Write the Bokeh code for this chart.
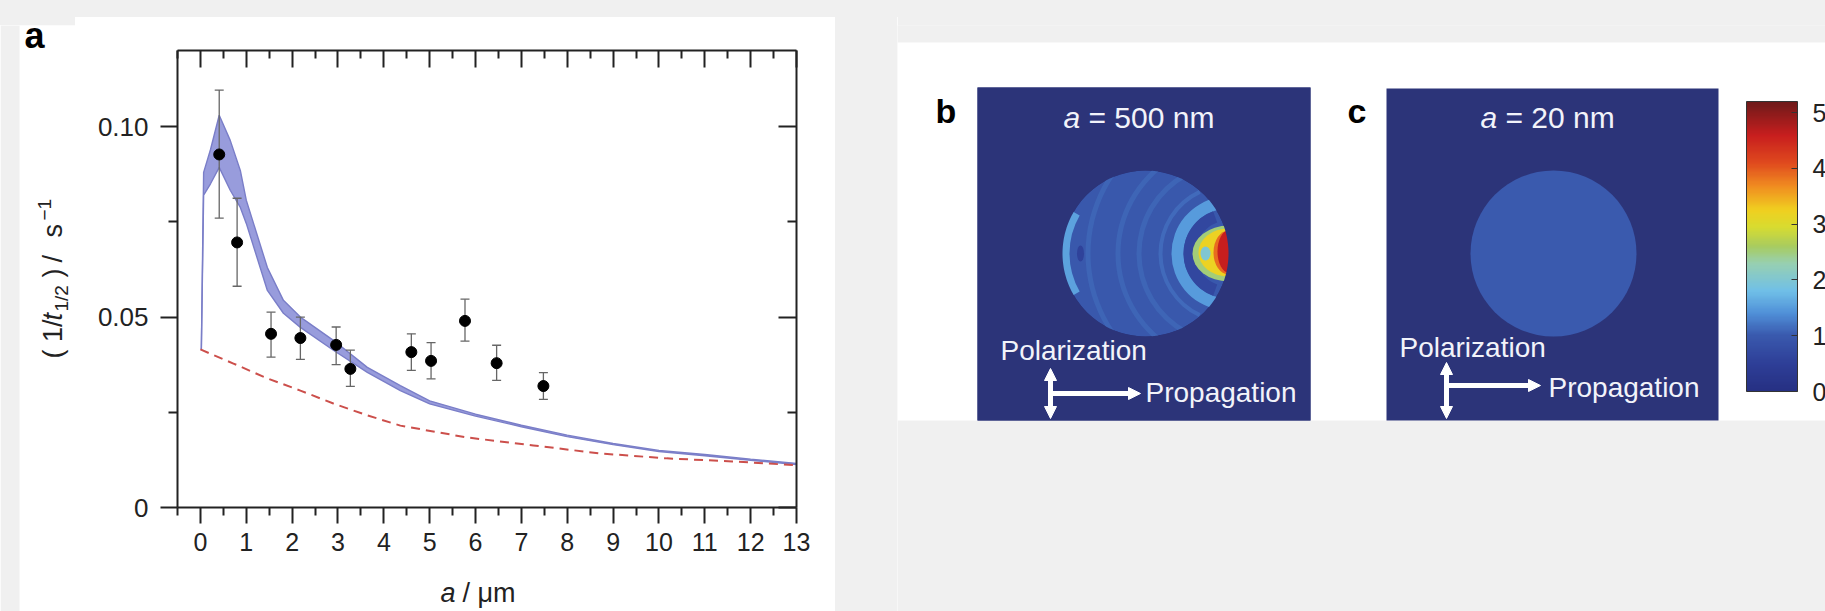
import numpy as np
from bokeh.plotting import figure
from bokeh.models import (ColumnDataSource, LinearAxis, FixedTicker, Label, Arrow,
                          NormalHead, LinearColorMapper, ColorBar, Range1d, CustomLabelingPolicy)
from bokeh.layouts import row, column
from bokeh.transform import linear_cmap
from bokeh.embed import file_html
from bokeh.resources import INLINE

FONT = "Liberation Sans"
INK = "#222222"
GRAY = "#f0f0f0"

# ---------------- panel a : data ----------------
x_major_ticks = list(range(0, 14))
x_minor_ticks = [-0.5, 0.5, 1.5, 2.5, 3.5, 4.5, 5.5, 6.5, 7.5, 8.5, 9.5, 10.5, 11.5, 12.5]
y_major_ticks = [0.0, 0.05, 0.10]
y_tick_labels = ["0", "0.05", "0.10"]
y_minor_ticks = [0.025, 0.075]

# measured points with error bars
meas_x = [0.41, 0.80, 1.54, 2.18, 2.96, 3.27, 4.60, 5.03, 5.77, 6.46, 7.48]
meas_y = [0.0927, 0.0696, 0.0456, 0.0445, 0.0427, 0.0364, 0.0408, 0.0385, 0.0490, 0.0379, 0.0319]
meas_hi = [0.1096, 0.0812, 0.0513, 0.0500, 0.0474, 0.0413, 0.0456, 0.0433, 0.0547, 0.0426, 0.0354]
meas_lo = [0.0760, 0.0581, 0.0395, 0.0389, 0.0375, 0.0318, 0.0360, 0.0338, 0.0437, 0.0334, 0.0284]

# simulated (blue) band: lower / upper envelope
sim_x = [0.02, 0.07, 0.22, 0.41, 0.65, 0.87, 1.00, 1.46, 1.81, 2.18, 2.90, 3.64, 4.36, 5.00,
         6.0, 7.0, 8.0, 9.0, 10.0, 11.0, 12.0, 13.0]
sim_hi = [0.0415, 0.0880, 0.0940, 0.1030, 0.0964, 0.0885, 0.0807, 0.0630, 0.0544, 0.0500, 0.0439,
          0.0368, 0.0320, 0.0280, 0.0245, 0.0216, 0.0190, 0.0168, 0.0150, 0.0139, 0.0127, 0.0116]
sim_lo = [0.0415, 0.0820, 0.0850, 0.0893, 0.0833, 0.0788, 0.0746, 0.0570, 0.0510, 0.0473, 0.0413,
          0.0355, 0.0307, 0.0272, 0.0240, 0.0212, 0.0186, 0.0165, 0.0147, 0.0136, 0.0124, 0.0113]

# bulk (red dashed) curve
bulk_x = [0.0, 0.72, 1.46, 2.18, 2.90, 3.64, 4.36, 5.81, 7.26, 8.71, 10.17, 11.60, 13.0]
bulk_y = [0.0415, 0.0378, 0.0339, 0.0307, 0.0273, 0.0242, 0.0215, 0.0184, 0.0163, 0.0142,
          0.0129, 0.0121, 0.0111]

# ---------------- colour scale (panels b, c) ----------------
cb_ticks = [0, 1, 2, 3, 4, 5]
cb_low, cb_high = 0.0, 5.2
cb_anchor_vals = [0.0, 0.5, 1.0, 1.4, 1.8, 2.3, 2.6, 2.95, 3.25, 3.7, 4.1, 4.6, 5.2]
cb_anchor_cols = ["#263083", "#2e3f98", "#3a5aae", "#5090d8", "#70c0e8", "#98d0b0", "#a8cc60",
                  "#d8dc30", "#f0d020", "#f08a20", "#e04a1e", "#c81e1e", "#6e1a1a"]

# ---------------- panel b : field features (local coords in the 333 px box) ----------------
b_circle = dict(x=[168], y=[167], r=[83], v=[0.97])
b_arcs = dict(
    x=[168, 251, 251, 251, 251, 251, 251],
    y=[167, 167, 167, 167, 167, 167, 167],
    ri=[76, 138, 108, 87, 66, 45, 33],
    ro=[92, 143, 113, 92, 70, 57, 45],
    a0=[150, 125, 122, 118, 115, 100, 110],
    a1=[210, 235, 238, 242, 245, 260, 250],
    v=[1.55, 1.09, 1.09, 1.09, 1.12, 1.5, 0.65],
)
b_spots = dict(
    x=[251, 251, 251, 251, 228, 103],
    y=[167, 168, 168, 169, 167, 167],
    w=[72, 60, 30, 22, 10, 7],
    h=[56, 48, 44, 42, 14, 16],
    v=[2.5, 3.2, 3.9, 4.6, 2.0, 0.55],
)
c_circle = dict(x=[167], y=[167], r=[83], v=[1.0])

panel_titles = {"b": ("a", "= 500 nm"), "c": ("a", "= 20 nm")}

# ---------------- palette (styling) ----------------
def _rgb(h):
    return [int(h[i:i + 2], 16) for i in (1, 3, 5)]

_anc = np.array([_rgb(c) for c in cb_anchor_cols], dtype=float)
_t = np.linspace(cb_low, cb_high, 256)
PALETTE = ["#%02x%02x%02x" % tuple(int(round(np.interp(t, cb_anchor_vals, _anc[:, k]))) for k in range(3))
           for t in _t]
NAVY = "#2c3479"
TXT = "#f2f3fa"


def cmap(field="v"):
    return linear_cmap(field, PALETTE, cb_low, cb_high)


BASE_FIX = 0.35   # Bokeh draws the alphabetic baseline this many ems below the anchor


def scr_label(p, x, y, text, size, style="normal", color=INK, angle=0.0):
    fs = float(size.replace("px", ""))
    if angle == 0.0:
        y = y + BASE_FIX * fs
    else:
        x = x - BASE_FIX * fs
    p.add_layout(Label(x=x, y=y, x_units="screen", y_units="screen", text=text, angle=angle,
                       text_font=FONT, text_font_size=size, text_font_style=style, text_color=color,
                       text_baseline="alphabetic", text_align="left"))


TOP_B = 25   # common top border of all plots in the row

# ================= left strip (panel letter + y label) =================
pl = figure(width=75, height=611, x_range=Range1d(0, 75), y_range=Range1d(0, 586),
            output_backend="svg", toolbar_location=None, x_axis_location=None, y_axis_location=None,
            min_border_left=0, min_border_right=0, min_border_top=TOP_B, min_border_bottom=0,
            background_fill_color="white", border_fill_color=GRAY, outline_line_color=None,
            styles={"background": "linear-gradient(#f0f0f0 25px, #ffffff 25px)"})
pl.xgrid.visible = False
pl.ygrid.visible = False
pl.quad(left=[0], right=[19], bottom=[0], top=[586], fill_color=GRAY, line_color=None)
scr_label(pl, 24, 563, "a", "36px", "bold", "black")
ylab_parts = [
    ("( 1/", 62, 253, "27px", "normal"),
    ("t", 62, 291, "27px", "italic"),
    ("1/2", 68, 300, "19px", "normal"),
    (")", 62, 334, "27px", "normal"),
    ("/", 62, 349, "27px", "normal"),
    ("s", 62, 374, "27px", "normal"),
    ("−1", 51, 391, "19px", "normal"),
]
for txt, lx, ly, fs, st in ylab_parts:
    scr_label(pl, lx, ly, txt, fs, st, INK, np.pi / 2)

# ================= panel a =================
pa = figure(width=760, height=549, x_range=Range1d(-0.5, 13), y_range=Range1d(0, 0.12),
            output_backend="svg", toolbar_location=None,
            min_border_left=102, min_border_right=39, min_border_top=TOP_B, min_border_bottom=67,
            background_fill_color="white", border_fill_color="white", outline_line_color=None)
pa.xgrid.visible = False
pa.ygrid.visible = False

HIDE_LABELS = "for (const i of indices) { indices.unset(i) }\nreturn indices"


def style_axis(ax, tin, tout, min_in, min_out, labels=True):
    ax.axis_line_color = INK
    ax.axis_line_width = 2
    ax.major_tick_line_color = INK
    ax.major_tick_line_width = 2
    ax.minor_tick_line_color = INK
    ax.minor_tick_line_width = 2
    ax.major_tick_in = tin
    ax.major_tick_out = tout
    ax.minor_tick_in = min_in
    ax.minor_tick_out = min_out
    ax.major_label_text_font = FONT
    ax.major_label_text_color = INK
    if not labels:
        ax.major_label_policy = CustomLabelingPolicy(code=HIDE_LABELS)
        ax.major_label_text_font_size = "1px"
        ax.major_label_standoff = 0


xa = pa.xaxis[0]
xa.ticker = FixedTicker(ticks=x_major_ticks, minor_ticks=x_minor_ticks)
style_axis(xa, 0, 16, 0, 8)
xa.major_label_text_font_size = "25px"
xa.major_label_standoff = 9

ya = pa.yaxis[0]
ya.ticker = FixedTicker(ticks=y_major_ticks, minor_ticks=y_minor_ticks)
style_axis(ya, 0, 17, 0, 9)
ya.major_label_text_font_size = "26px"
ya.major_label_standoff = 12
ya.major_label_overrides = dict(zip(y_major_ticks, y_tick_labels))

ta = LinearAxis(ticker=FixedTicker(ticks=x_major_ticks, minor_ticks=x_minor_ticks))
style_axis(ta, 17, 0, 8, 0, labels=False)
pa.add_layout(ta, "above")
ra = LinearAxis(ticker=FixedTicker(ticks=y_major_ticks, minor_ticks=y_minor_ticks))
style_axis(ra, 18, 0, 9, 0, labels=False)
pa.add_layout(ra, "right")

sim_src = ColumnDataSource(dict(x=sim_x, lo=sim_lo, hi=sim_hi))
pa.varea(x="x", y1="lo", y2="hi", source=sim_src, fill_color="#8d91d8", fill_alpha=0.9)
pa.line(x="x", y="hi", source=sim_src, line_color="#7a7ec8", line_width=1.4)
pa.line(x="x", y="lo", source=sim_src, line_color="#7a7ec8", line_width=1.4)

pa.line(x=bulk_x, y=bulk_y, line_color="#cc4f4b", line_width=2, line_dash="9 6")

meas_src = ColumnDataSource(dict(x=meas_x, y=meas_y, lo=meas_lo, hi=meas_hi))
pa.segment(x0="x", y0="lo", x1="x", y1="hi", source=meas_src, line_color="#666666", line_width=1.3)
pa.scatter(x="x", y="hi", source=meas_src, marker="dash", size=9, line_color="#666666", line_width=1.3)
pa.scatter(x="x", y="lo", source=meas_src, marker="dash", size=9, line_color="#666666", line_width=1.3)
pa.scatter(x="x", y="y", source=meas_src, marker="circle", size=11, fill_color="black", line_color="black")

# x-axis title strip under panel a
px = figure(width=760, height=37, x_range=Range1d(0, 1), y_range=Range1d(0, 1),
            output_backend="svg", toolbar_location=None, x_axis_location=None, y_axis_location=None,
            min_border_left=102, min_border_right=39, min_border_top=0, min_border_bottom=0,
            background_fill_color="white", border_fill_color="white", outline_line_color=None)
px.xgrid.visible = False
px.ygrid.visible = False
scr_label(px, 263, 9, "a", "27px", "italic")
scr_label(px, 285, 9, "/ μm", "27px")

col_a = column(pa, px, margin=(25, 62, 0, 0), styles={"background-color": "white"})

# ================= right side: panels b, c and colour bar =================
pr = figure(width=928, height=611, x_range=Range1d(0, 928), y_range=Range1d(0, 586),
            output_backend="svg", toolbar_location=None, x_axis_location=None, y_axis_location=None,
            min_border_left=0, min_border_right=0, min_border_top=TOP_B, min_border_bottom=0,
            background_fill_color=GRAY, border_fill_color=GRAY, outline_line_color=None)
pr.xgrid.visible = False
pr.ygrid.visible = False
# white card and the two dark image boxes
pr.quad(left=[0], right=[928], bottom=[191], top=[569], fill_color="white", line_color=None)
BX, BY = 80, 191      # panel b box origin
CX, CY = 489, 191     # panel c box origin
pr.quad(left=[BX, CX], right=[BX + 333, CX + 332], bottom=[BY, CY], top=[BY + 333, CY + 332],
        fill_color=NAVY, line_color=None)


def shift(d, dx, dy):
    out = dict(d)
    out["x"] = [v + dx for v in d["x"]]
    out["y"] = [v + dy for v in d["y"]]
    return out


# panel b field
pr.circle(x="x", y="y", radius="r", source=ColumnDataSource(shift(b_circle, BX, BY)),
          fill_color=cmap(), line_color=None)
arc_src = shift(b_arcs, BX, BY)
arc_src["a0"] = list(np.radians(b_arcs["a0"]))
arc_src["a1"] = list(np.radians(b_arcs["a1"]))
pr.annular_wedge(x="x", y="y", inner_radius="ri", outer_radius="ro", start_angle="a0", end_angle="a1",
                 source=ColumnDataSource(arc_src), fill_color=cmap(), line_color=None)
pr.ellipse(x="x", y="y", width="w", height="h", source=ColumnDataSource(shift(b_spots, BX, BY)),
           fill_color=cmap(), line_color=None)
_th = np.linspace(0, 2 * np.pi, 241)
_cx, _cy, _r = b_circle["x"][0] + BX, b_circle["y"][0] + BY, b_circle["r"][0]
pr.multi_polygons(xs=[[[[BX, BX + 333, BX + 333, BX], list(_cx + _r * np.cos(_th))]]],
                  ys=[[[[BY, BY, BY + 333, BY + 333], list(_cy + _r * np.sin(_th))]]],
                  fill_color=NAVY, line_color=None)

# panel c field
pr.circle(x="x", y="y", radius="r", source=ColumnDataSource(shift(c_circle, CX, CY)),
          fill_color=cmap(), line_color=None)

# texts
scr_label(pr, 38, 489, "b", "34px", "bold", "black")
scr_label(pr, 450, 489, "c", "34px", "bold", "black")
for key, tx in (("b", 166), ("c", 583)):
    a_txt, rest = panel_titles[key]
    scr_label(pr, tx, 484, a_txt, "30px", "italic", TXT)
    scr_label(pr, tx + 25, 484, rest, "30px", "normal", TXT)
scr_label(pr, 103, 251, "Polarization", "28px", color=TXT)
scr_label(pr, 248, 209, "Propagation", "28px", color=TXT)
scr_label(pr, 502, 254, "Polarization", "28px", color=TXT)
scr_label(pr, 651, 214, "Propagation", "28px", color=TXT)


def add_arrows(p, ax, ay_bot, ay_top, hy, hx_end):
    head = dict(size=12, fill_color="white", line_color="white", line_width=1)
    p.add_layout(Arrow(start=NormalHead(**head), end=NormalHead(**head), x_start=ax, y_start=ay_bot,
                       x_end=ax, y_end=ay_top, line_color="white", line_width=5))
    p.add_layout(Arrow(end=NormalHead(**head), x_start=ax, y_start=hy, x_end=hx_end, y_end=hy,
                       line_color="white", line_width=5))


add_arrows(pr, 153, 193, 243, 218, 243)
add_arrows(pr, 549, 193, 249, 226, 643)

mapper = LinearColorMapper(palette=PALETTE, low=cb_low, high=cb_high)
cb = ColorBar(color_mapper=mapper, ticker=FixedTicker(ticks=cb_ticks), width=51, height=290,
              location=(849, 220), padding=0, label_standoff=15, major_tick_in=6, major_tick_out=0,
              major_tick_line_color="#333333", minor_tick_line_color=None,
              bar_line_color="#333333", bar_line_width=1, border_line_color=None,
              background_fill_alpha=0, major_label_text_font=FONT,
              major_label_text_font_size="25px", major_label_text_color=INK)
pr.add_layout(cb, "center")

ROOT_BG = ("linear-gradient(#f0f0f0, #f0f0f0) 835px 0px / 62px 100% no-repeat, "
           "linear-gradient(#f0f0f0 17px, #ffffff 17px)")
layout = row(pl, col_a, pr, styles={"background": ROOT_BG})
open("out.html", "w").write(file_html(layout, INLINE))
